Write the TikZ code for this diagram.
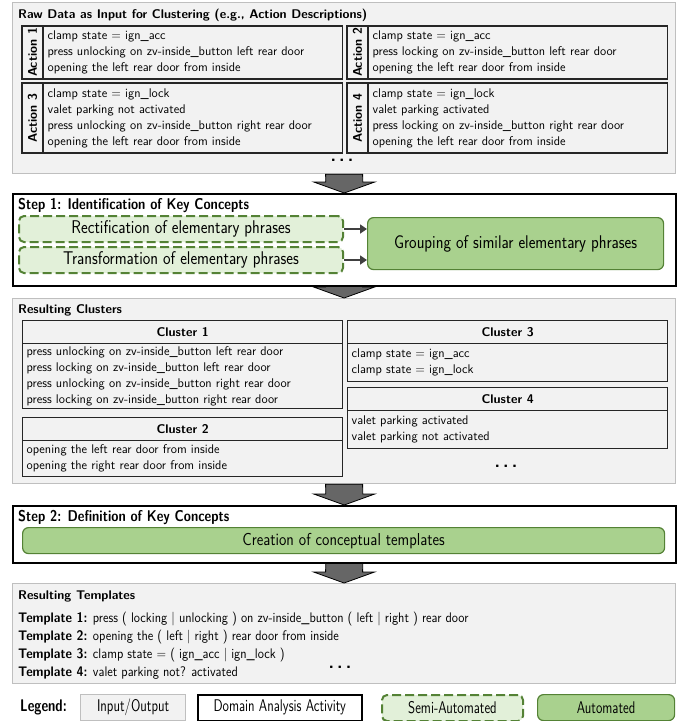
\documentclass[tikz,border=0pt]{standalone}
\usepackage{graphicx}
\usetikzlibrary{arrows.meta}
\renewcommand{\familydefault}{\sfdefault}

\definecolor{iofill}{HTML}{F2F2F2}
\definecolor{ioline}{HTML}{BFBFBF}
\definecolor{itemline}{HTML}{262626}
\definecolor{autofill}{HTML}{A9D18E}
\definecolor{autoline}{HTML}{548235}
\definecolor{semifill}{HTML}{E2F0D9}
\definecolor{arrowfill}{HTML}{666666}
\definecolor{arrowdark}{HTML}{404040}

\newcommand{\txt}{\fontsize{12.6}{16}\selectfont}
\newcommand{\tall}[2]{\scalebox{1}[#1]{#2}}
\newcommand{\moredots}{{\fontsize{18}{18}\selectfont\bfseries .\hspace{3pt}.\hspace{3pt}.}}
% grey block arrow between two stacked boxes
\newcommand{\blockarrow}[2]{%
  \draw[bigarrow] ([xshift=-18.5pt]#1.south) -- ([xshift=-18.5pt,yshift=11pt]#2.north)
    -- ([xshift=-30.5pt,yshift=11pt]#2.north) -- (#2.north)
    -- ([xshift=30.5pt,yshift=11pt]#2.north) -- ([xshift=18.5pt,yshift=11pt]#2.north)
    -- ([xshift=18.5pt]#1.south) -- cycle;}

\tikzset{
  iobox/.style={draw=ioline, fill=iofill, line width=1.2pt, inner sep=0pt, anchor=north west},
  stepbox/.style={draw=black, fill=white, line width=1.5pt, inner sep=0pt, anchor=north west},
  tagbox/.style={draw=itemline, fill=iofill, line width=1.3pt, rotate=90, inner sep=0pt, minimum height=21pt, font=\txt\bfseries},
  itembox/.style={draw=itemline, fill=iofill, line width=1.3pt, inner ysep=0pt, inner xsep=4pt, align=left, anchor=west},
  headbox/.style={draw=itemline, fill=iofill, line width=1.3pt, inner sep=0pt, anchor=north west, minimum width=320pt, minimum height=23pt, font=\txt\bfseries},
  bodybox/.style={draw=itemline, fill=iofill, line width=1.3pt, inner ysep=0pt, inner xsep=4pt, anchor=north west, align=left, text width=312pt},
  semibox/.style={draw=autoline, fill=semifill, line width=2pt, dash pattern=on 9pt off 4pt, rounded corners=5pt, inner sep=0pt, anchor=north west},
  autobox/.style={draw=autoline, fill=autofill, line width=1.2pt, rounded corners=6pt, inner sep=0pt, anchor=north west},
  boxtitle/.style={anchor=west, inner sep=0pt, font=\txt\bfseries},
  steptitle/.style={anchor=west, inner sep=0pt, font=\fontsize{13}{16}\selectfont\bfseries},
  steptext/.style={font=\fontsize{16}{18}\selectfont},
  legendtext/.style={font=\fontsize{13}{16}\selectfont},
  bigarrow/.style={fill=arrowfill, draw=black, line width=0.8pt},
  smallarrow/.style={draw=arrowdark, line width=2.5pt, -{Triangle[length=7pt,width=9pt]}},
}

\begin{document}
\begin{tikzpicture}[x=1pt, y=-1pt, font=\txt]
\useasboundingbox (0,0) rectangle (678,721);

% raw data
\node[iobox, minimum width=663pt, minimum height=171pt] (raw) at (12,2) {};
\node[boxtitle] (rawtitle) at (18,15) {Raw Data as Input for Clustering (e.g., Action Descriptions)};
\node[tagbox, minimum width=53pt] (act1) at (32.5,52.5) {Action 1};
\node[itembox, text width=291pt, minimum height=53pt] (act1txt) at (43,52.5) {clamp state = ign\_acc\\press unlocking on zv-inside\_button left rear door\\opening the left rear door from inside};
\node[tagbox, minimum width=53pt] (act2) at (357.5,52.5) {Action 2};
\node[itembox, text width=291pt, minimum height=53pt] (act2txt) at (368,52.5) {clamp state = ign\_acc\\press locking on zv-inside\_button left rear door\\opening the left rear door from inside};
\node[tagbox, minimum width=70pt] (act3) at (32.5,118) {Action 3};
\node[itembox, text width=291pt, minimum height=70pt] (act3txt) at (43,118) {clamp state = ign\_lock\\valet parking not activated\\press unlocking on zv-inside\_button right rear door\\opening the left rear door from inside};
\node[tagbox, minimum width=70pt] (act4) at (357.5,118) {Action 4};
\node[itembox, text width=291pt, minimum height=70pt] (act4txt) at (368,118) {clamp state = ign\_lock\\valet parking activated\\press locking on zv-inside\_button right rear door\\opening the left rear door from inside};
\node[inner sep=0pt] (rawdots) at (342,160) {\moredots};

% step 1
\node[stepbox, minimum width=663pt, minimum height=92pt] (step1) at (12,193) {};
\node[steptitle] (step1title) at (18,206) {\tall{1.2}{Step 1: Identification of Key Concepts}};
\node[semibox, steptext, minimum width=324pt, minimum height=26pt] (rectif) at (18,215) {\tall{1.15}{Rectification of elementary phrases}};
\node[semibox, steptext, minimum width=324pt, minimum height=26pt] (transf) at (18,246) {\tall{1.15}{Transformation of elementary phrases}};
\node[autobox, steptext, minimum width=296pt, minimum height=52pt] (group) at (367,217) {\tall{1.15}{Grouping of similar elementary phrases}};
\draw[smallarrow] (rectif.east) -- (rectif.east -| group.west);
\draw[smallarrow] (transf.east) -- (transf.east -| group.west);

% clusters
\node[iobox, minimum width=663pt, minimum height=185pt] (clusters) at (12,298) {};
\node[boxtitle] (clustitle) at (18,310) {Resulting Clusters};
\node[headbox] (c1head) at (22,320) {Cluster 1};
\node[bodybox, minimum height=65pt] (c1body) at (22,343) {press unlocking on zv-inside\_button left rear door\\press locking on zv-inside\_button left rear door\\press unlocking on zv-inside\_button right rear door\\press locking on zv-inside\_button right rear door};
\node[headbox] (c2head) at (22,417) {Cluster 2};
\node[bodybox, minimum height=36pt] (c2body) at (22,440) {opening the left rear door from inside\\opening the right rear door from inside};
\node[headbox] (c3head) at (347,320) {Cluster 3};
\node[bodybox, minimum height=38pt] (c3body) at (347,343) {clamp state = ign\_acc\\clamp state = ign\_lock};
\node[headbox] (c4head) at (347,387) {Cluster 4};
\node[bodybox, minimum height=38pt] (c4body) at (347,410) {valet parking activated\\valet parking not activated};
\node[inner sep=0pt] (clusdots) at (506,466) {\moredots};

% step 2
\node[stepbox, minimum width=663pt, minimum height=57pt] (step2) at (12,505) {};
\node[steptitle] (step2title) at (18,518) {\tall{1.2}{Step 2: Definition of Key Concepts}};
\node[autobox, font=\fontsize{15}{17}\selectfont, minimum width=642pt, minimum height=26pt] (creation) at (22,527) {\tall{1.15}{Creation of conceptual templates}};

% templates
\node[iobox, minimum width=663pt, minimum height=100pt] (templates) at (12,583) {};
\node[boxtitle] (templtitle) at (18,596) {Resulting Templates};
\node[anchor=west, inner sep=0pt] (templ1) at (18,619) {\tall{1.1}{\textbf{Template 1:} press ( locking | unlocking ) on zv-inside\_button ( left | right ) rear door}};
\node[anchor=west, inner sep=0pt] (templ2) at (18,637) {\tall{1.1}{\textbf{Template 2:} opening the ( left | right ) rear door from inside}};
\node[anchor=west, inner sep=0pt] (templ3) at (18,655) {\tall{1.1}{\textbf{Template 3:} clamp state = ( ign\_acc | ign\_lock )}};
\node[anchor=west, inner sep=0pt] (templ4) at (18,673) {\tall{1.1}{\textbf{Template 4:} valet parking not? activated}};
\node[inner sep=0pt] (templdots) at (340,667) {\moredots};

% arrows between stages
\blockarrow{raw}{step1}
\blockarrow{step1}{clusters}
\blockarrow{clusters}{step2}
\blockarrow{step2}{templates}

% legend
\node[anchor=west, inner sep=0pt, legendtext] (legend) at (20,707) {\tall{1.3}{\textbf{Legend:}}};
\node[iobox, legendtext, minimum width=105pt, minimum height=26pt] (lgio) at (80,694) {\tall{1.3}{Input/Output}};
\node[stepbox, legendtext, minimum width=164pt, minimum height=26pt] (lgstep) at (197,694) {\tall{1.3}{Domain Analysis Activity}};
\node[semibox, legendtext, minimum width=141pt, minimum height=26pt] (lgsemi) at (381,694) {\tall{1.3}{Semi-Automated}};
\node[autobox, legendtext, minimum width=137pt, minimum height=26pt] (lgauto) at (537,694) {\tall{1.3}{Automated}};
\end{tikzpicture}
\end{document}
